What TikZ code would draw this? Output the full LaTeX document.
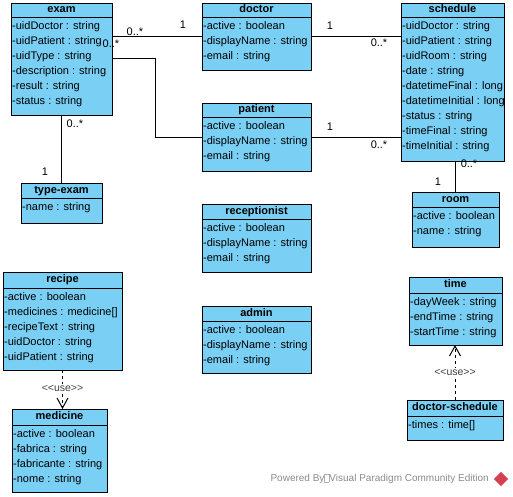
\documentclass[tikz,border=0pt]{standalone}
\usepackage{fontspec}
\setmainfont{Liberation Sans}
\usetikzlibrary{arrows.meta,calc}
\definecolor{clsfill}{RGB}{122,207,245}
\definecolor{wmgray}{RGB}{140,140,140}
\definecolor{vpred}{RGB}{214,64,78}
\tikzset{
  every node/.style={font=\fontsize{11}{13}\selectfont},
  clsbox/.style={draw, fill=clsfill, line width=1pt, inner sep=0pt, outer sep=0pt},
  clsline/.style={line width=1pt},
  clstitle/.style={font=\fontsize{11}{13}\selectfont\bfseries, inner sep=0pt, text height=8pt, text depth=2.5pt},
  clsattr/.style={anchor=west, inner sep=0pt, text height=8pt, text depth=2.5pt},
  mult/.style={inner sep=0pt},
  assoc/.style={line width=1pt},
  dep/.style={line width=1pt, dash pattern=on 3pt off 3pt, -{Straight Barb[length=10pt,width=11pt,line width=1pt]}},
  uselbl/.style={fill=white, inner sep=1pt, text=black!75, font=\fontsize{10.5}{12}\selectfont},
  wmtext/.style={text=wmgray, inner sep=0pt, font=\fontsize{10}{12}\selectfont}
}
\newcommand\umlclass[8]{%
  \node[clsbox, minimum width=#4pt, minimum height=#5pt, anchor=north west] (#1) at (#2,#3) {};
  \draw[clsline] (#2,#3+#6) -- (#2+#4,#3+#6);
  \node[clstitle] (#1-t) at (#2+#4/2,#3+#6/2) {#7};
  \foreach \a [count=\i] in {#8} {\node[clsattr] (#1-a\i) at (#2+1,#3+#6+9.5+15*\i-15) {\a};}
}
\newcommand\missingglyph{{\setlength\fboxsep{0pt}\setlength\fboxrule{0.5pt}\fbox{\rule{4pt}{0pt}\rule{0pt}{7pt}}}}
\begin{document}
\begin{tikzpicture}[x=1pt,y=-1pt]
\useasboundingbox (0,0) rectangle (513,496);
\fill[white] (0,0) rectangle (513,496);

\umlclass{exam}{11}{3}{101}{112}{14}{exam}{-uidDoctor : string,-uidPatient : string,-uidType : string,-description : string,-result : string,-status : string}
\umlclass{doctor}{202}{3}{109}{67}{14}{doctor}{-active : boolean,-displayName : string,-email : string}
\umlclass{patient}{202}{103}{109}{68}{14}{patient}{-active : boolean,-displayName : string,-email : string}
\umlclass{recep}{202}{204}{109}{68}{15}{receptionist}{-active : boolean,-displayName : string,-email : string}
\umlclass{admin}{202}{306}{109}{67}{15}{admin}{-active : boolean,-displayName : string,-email : string}
\umlclass{schedule}{401}{3}{103}{158}{14}{schedule}{-uidDoctor : string,-uidPatient : string,-uidRoom : string,-date : string,-datetimeFinal : long,-datetimeInitial : long,-status : string,-timeFinal : string,-timeInitial : string}
\umlclass{room}{412}{192}{87}{55}{15}{room}{-active : boolean,-name : string}
\umlclass{typeexam}{21}{183}{81}{40}{15}{type-exam}{-name : string}
\umlclass{recipe}{3}{272}{119}{98}{16}{recipe}{-active : boolean,-medicines : medicine[],-recipeText : string,-uidDoctor : string,-uidPatient : string}
\umlclass{medicine}{12}{409}{95}{83}{16}{medicine}{-active : boolean,-fabrica : string,-fabricante : string,-nome : string}
\umlclass{time}{409}{277}{93}{68}{16}{time}{-dayWeek : string,-endTime : string,-startTime : string}
\umlclass{dsched}{407}{400}{96}{40}{16}{doctor-schedule}{-times : time[]}

% associations
\draw[assoc] ([yshift=-33pt]exam.north east) -- ([yshift=-33pt]doctor.north west);
\draw[assoc] ([yshift=-55pt]exam.north east) -- ++(43,0) |- ([yshift=-34pt]patient.north west);
\draw[assoc] (exam.south) -- (typeexam.north);
\draw[assoc] ([yshift=-33pt]doctor.north east) -- ([yshift=-33pt]schedule.north west);
\coordinate (ps) at ([yshift=-34pt]patient.north east);
\draw[assoc] (ps) -- (ps -| schedule.west);
\draw[assoc] (room.north) -- (room.north |- schedule.south);

% dependencies
\draw[dep] (recipe.south) -- (recipe.south |- medicine.north) node[uselbl, pos=0.47] (use1) {<\kern0pt<use>\kern0pt>};
\draw[dep] (dsched.north) -- (dsched.north |- time.south) node[uselbl, pos=0.5] (use2) {<\kern0pt<use>\kern0pt>};

% multiplicities
\node[mult] (m1) at (135,32) {0..*};
\node[mult] (m2) at (183,25) {1};
\node[mult] (m3) at (111,44) {0..*};
\node[mult] (m4) at (75,124) {0..*};
\node[mult] (m5) at (45,172) {1};
\node[mult] (m6) at (330,26) {1};
\node[mult] (m7) at (379,43) {0..*};
\node[mult] (m8) at (330,127) {1};
\node[mult] (m9) at (379,145) {0..*};
\node[mult] (m10) at (469,164) {0..*};
\node[mult] (m11) at (438,182) {1};

% watermark
\node[wmtext, anchor=east] (wmark) at (489,479) {Powered By\textcolor{wmgray!70}{\missingglyph}Visual Paradigm Community Edition};
\node[fill=vpred, minimum size=10pt, inner sep=0pt, rotate=45] (logo) at (501,479) {};
\end{tikzpicture}
\end{document}
